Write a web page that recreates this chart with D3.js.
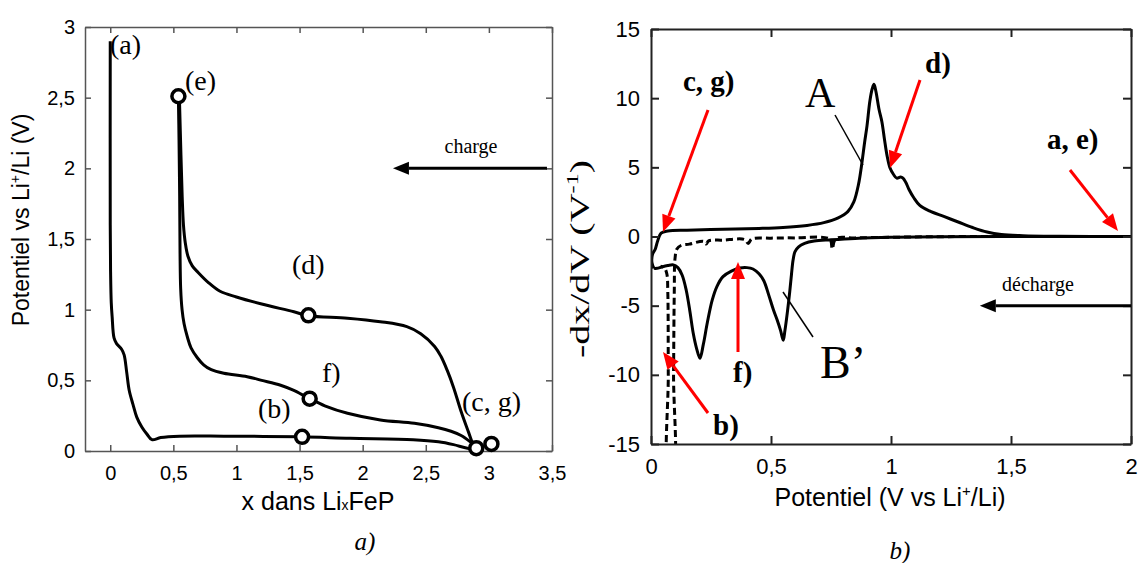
<!DOCTYPE html>
<html><head><meta charset="utf-8">
<script src="https://cdn.jsdelivr.net/npm/d3@7"></script>
<style>body{margin:0;background:#fff}svg{display:block}</style>
</head><body><svg id="c" width="1140" height="563"></svg>
<script>
// ---------- DATA ----------
// Panel a) : potential (V) vs x in LixFeP
const xTicksA = [0, 0.5, 1, 1.5, 2, 2.5, 3, 3.5];
const yTicksA = [0, 0.5, 1, 1.5, 2, 2.5, 3];
const firstDischarge = [[0,2.9],[0,1.6],[0.003,1.25],[0.008,1.05],[0.015,0.95],[0.03,0.8],[0.05,0.76],[0.09,0.72],[0.11,0.68],[0.13,0.56],[0.15,0.43],[0.18,0.33],[0.21,0.24],[0.25,0.17],[0.29,0.12],[0.33,0.08],[0.4,0.095],[0.55,0.105],[0.9,0.105],[1.5,0.1],[1.9,0.09],[2.4,0.08],[2.6,0.065],[2.72,0.045],[2.83,0.02],[2.9,0.02]];
const secondCharge = [[2.88,0.03],[2.84,0.13],[2.78,0.28],[2.72,0.45],[2.67,0.57],[2.62,0.67],[2.57,0.74],[2.46,0.83],[2.35,0.88],[2.14,0.915],[1.88,0.94],[1.57,0.957],[1.455,0.985],[1.2,1.04],[1.0,1.09],[0.87,1.13],[0.78,1.19],[0.7,1.26],[0.65,1.31],[0.615,1.38],[0.595,1.47],[0.58,1.6],[0.57,1.8],[0.56,2.1],[0.548,2.5]];
const secondDischarge = [[0.54,2.5],[0.545,2.2],[0.55,1.8],[0.553,1.4],[0.558,1.15],[0.569,1.0],[0.585,0.9],[0.61,0.81],[0.64,0.73],[0.69,0.66],[0.74,0.61],[0.8,0.575],[0.9,0.55],[1.085,0.526],[1.2,0.5],[1.35,0.465],[1.45,0.43],[1.575,0.373],[1.7,0.32],[1.88,0.267],[2.14,0.22],[2.41,0.196],[2.6,0.165],[2.7,0.14],[2.78,0.11],[2.86,0.06],[2.9,0.03]];
const markersA = [[0.54,2.51],[1.57,0.96],[1.58,0.37],[1.52,0.1],[2.9,0.02],[3.02,0.05]];

// Panel b) : -dx/dV vs potential
const xTicksB = [0, 0.5, 1, 1.5, 2];
const yTicksB = [-15, -10, -5, 0, 5, 10, 15];
const chargeSolid = [[0.012,-2.3],[0.004,-1.9],[0.006,-1.3],[0.018,-0.9],[0.028,-0.3],[0.042,0.25],[0.07,0.4],[0.15,0.46],[0.3,0.52],[0.45,0.58],[0.55,0.65],[0.65,0.8],[0.72,1.0],[0.78,1.35],[0.82,1.8],[0.845,2.5],[0.865,3.8],[0.877,5.1],[0.89,6.8],[0.9,8.0],[0.912,9.8],[0.922,10.7],[0.929,11.0],[0.937,10.5],[0.95,9.2],[0.962,8.3],[0.973,7.0],[0.983,5.9],[0.996,4.95],[1.01,4.5],[1.024,4.22],[1.04,4.3],[1.05,4.22],[1.062,3.9],[1.075,3.4],[1.095,2.8],[1.12,2.25],[1.16,1.85],[1.22,1.45],[1.28,1.05],[1.34,0.65],[1.4,0.32],[1.46,0.14],[1.55,0.06],[1.7,0.02],[2.0,0]];
const dischargeSolid = [[2.0,0],[1.6,0],[1.2,-0.02],[1.0,-0.06],[0.85,-0.14],[0.75,-0.24],[0.68,-0.33],[0.64,-0.5],[0.615,-0.75],[0.6,-1.1],[0.592,-1.7],[0.585,-2.8],[0.578,-4.0],[0.568,-5.5],[0.558,-6.8],[0.551,-7.5],[0.54,-6.8],[0.525,-6.0],[0.51,-5.3],[0.49,-4.2],[0.47,-3.2],[0.45,-2.7],[0.425,-2.35],[0.4,-2.25],[0.37,-2.28],[0.335,-2.5],[0.3,-2.9],[0.275,-3.6],[0.255,-4.6],[0.235,-6.2],[0.218,-7.8],[0.204,-8.8],[0.19,-8.1],[0.176,-7.0],[0.162,-5.4],[0.147,-3.9],[0.13,-2.8],[0.112,-2.25],[0.093,-2.05],[0.07,-2.1],[0.045,-2.2],[0.025,-2.3],[0.012,-2.3]];
const firstDischargeDashed = [[2.0,0],[1.5,0],[1.16,-0.02],[1.0,-0.06],[0.85,-0.1],[0.77,-0.15],[0.755,-0.9],[0.745,-0.2],[0.6,-0.1],[0.5,-0.12],[0.42,-0.18],[0.405,-0.5],[0.39,-0.22],[0.3,-0.26],[0.24,-0.32],[0.23,-0.55],[0.22,-0.35],[0.16,-0.55],[0.125,-0.65],[0.108,-0.9],[0.1,-1.6],[0.097,-4],[0.094,-10],[0.092,-17],[0.074,-17],[0.072,-10],[0.07,-4],[0.066,-2.7],[0.055,-2.25],[0.04,-2.15]];

// ---------- HELPERS ----------
const svg = d3.select("#c");
const fmt = d => String(d).replace('.', ',');
const SANS = "'Liberation Sans', Arial, sans-serif";
const SERIF = "'Liberation Serif', 'Times New Roman', serif";
const lineGen = (x, y) => d3.line().x(d => x(d[0])).y(d => y(d[1])).curve(d3.curveCatmullRom.alpha(0.5));

function arrow(g, x1, y1, x2, y2, color, w, hl, hw) {
  const a = Math.atan2(y2 - y1, x2 - x1);
  const bx = x2 - hl * Math.cos(a), by = y2 - hl * Math.sin(a);
  g.append("line").attr("x1", x1).attr("y1", y1).attr("x2", bx).attr("y2", by)
    .attr("stroke", color).attr("stroke-width", w);
  const px = -Math.sin(a) * hw / 2, py = Math.cos(a) * hw / 2;
  g.append("path").attr("d", `M${x2},${y2}L${bx + px},${by + py}L${bx - px},${by - py}Z`).attr("fill", color);
}
function label(g, x, y, t, size, opts = {}) {
  const el = g.append("text").attr("x", x).attr("y", y)
    .attr("font-family", opts.family || SERIF).attr("font-size", size)
    .attr("font-weight", opts.weight || "normal").attr("font-style", opts.style || "normal")
    .attr("text-anchor", opts.anchor || "start").attr("fill", opts.fill || "#000").text(t);
  return el;
}
function frame(g, x, y, xt, yt, stroke, sw, tick, padX, padY, fs) {
  const [x0, x1] = x.range(), [y0, y1] = y.range();
  const style = s => s.call(a => a.selectAll("line,path").attr("stroke", stroke).attr("stroke-width", sw))
    .call(a => a.selectAll("text").attr("font-family", SANS).attr("font-size", fs).attr("fill", "#000"));
  g.append("g").attr("transform", `translate(0,${y0})`)
    .call(d3.axisBottom(x).tickValues(xt).tickFormat(fmt).tickSizeInner(-tick).tickSizeOuter(0).tickPadding(padX)).call(style);
  g.append("g").attr("transform", `translate(0,${y1})`)
    .call(d3.axisTop(x).tickValues(xt).tickFormat("").tickSizeInner(-tick).tickSizeOuter(0)).call(style);
  g.append("g").attr("transform", `translate(${x0},0)`)
    .call(d3.axisLeft(y).tickValues(yt).tickFormat(fmt).tickSizeInner(-tick).tickSizeOuter(0).tickPadding(padY)).call(style);
  g.append("g").attr("transform", `translate(${x1},0)`)
    .call(d3.axisRight(y).tickValues(yt).tickFormat("").tickSizeInner(-tick).tickSizeOuter(0)).call(style);
}

// ---------- PANEL a) ----------
const xA = d3.scaleLinear([-0.2, 3.5], [85, 552]);
const yA = d3.scaleLinear([0, 3], [451, 27]);
const gA = svg.append("g");
frame(gA, xA, yA, xTicksA, yTicksA, "#555", 1.5, 6, 15, 10, 20);

const lA = lineGen(xA, yA);
[firstDischarge, secondCharge, secondDischarge].forEach(s =>
  gA.append("path").attr("d", lA(s)).attr("fill", "none").attr("stroke", "#000").attr("stroke-width", 3).attr("stroke-linejoin", "round"));
gA.selectAll("circle.m").data(markersA).join("circle").attr("class", "m")
  .attr("cx", d => xA(d[0])).attr("cy", d => yA(d[1])).attr("r", 6.5)
  .attr("fill", "#fff").attr("stroke", "#000").attr("stroke-width", 3.5);

label(gA, 110, 54, "(a)", 28);
label(gA, 185, 90, "(e)", 28);
label(gA, 292, 274, "(d)", 28);
label(gA, 322, 382, "f)", 28);
label(gA, 258, 418, "(b)", 28);
label(gA, 462, 411, "(c, g)", 28);
label(gA, 471, 153, "charge", 20, { anchor: "middle" });
arrow(gA, xA(3.46), yA(2), xA(2.24), yA(2), "#000", 3, 16, 13);

// axis titles a)
const xtA = label(gA, 318, 510, "", 25, { family: SANS, anchor: "middle" });
xtA.append("tspan").text("x dans Li");
xtA.append("tspan").attr("font-size", 14).text("x");
xtA.append("tspan").text("FeP");
const ytA = gA.append("text").attr("transform", "translate(29,220) rotate(-90)")
  .attr("font-family", SANS).attr("font-size", 23).attr("text-anchor", "middle");
ytA.append("tspan").text("Potentiel vs Li");
ytA.append("tspan").attr("font-size", 14).attr("dy", -9).text("+");
ytA.append("tspan").attr("dy", 9).text("/Li (V)");
label(gA, 365, 550, "a)", 25, { style: "italic", anchor: "middle" });

// ---------- PANEL b) ----------
const xB = d3.scaleLinear([0, 2], [651, 1131]);
const yB = d3.scaleLinear([-15, 15], [444, 29]);
const gB = svg.append("g");
svg.append("defs").append("clipPath").attr("id", "clipB").append("rect")
  .attr("x", 651).attr("y", 29).attr("width", 480).attr("height", 415);
const lB = lineGen(xB, yB);
const curves = gB.append("g").attr("clip-path", "url(#clipB)");
curves.append("path").attr("d", lB(firstDischargeDashed)).attr("fill", "none").attr("stroke", "#000")
  .attr("stroke-width", 3).attr("stroke-dasharray", "7,4");
[dischargeSolid, chargeSolid].forEach(s =>
  curves.append("path").attr("d", lB(s)).attr("fill", "none").attr("stroke", "#000").attr("stroke-width", 3).attr("stroke-linejoin", "round"));
frame(gB, xB, yB, xTicksB, yTicksB, "#222", 2, 8, 14, 11, 22);

// annotations b)
label(gB, 683, 91, "c, g)", 29, { weight: "bold" });
arrow(gB, 708, 110, 663, 232, "#f00", 3, 17, 14);
label(gB, 925, 73, "d)", 29, { weight: "bold" });
arrow(gB, 920, 80, 890, 168, "#f00", 3, 17, 14);
label(gB, 1047, 149, "a, e)", 29, { weight: "bold" });
arrow(gB, 1070, 170, 1118, 231, "#f00", 3, 17, 14);
label(gB, 733, 382, "f)", 29, { weight: "bold" });
arrow(gB, 738, 352, 738, 262, "#f00", 3, 17, 14);
label(gB, 713, 435, "b)", 29, { weight: "bold" });
arrow(gB, 708, 413, 663, 352, "#f00", 3, 17, 14);
label(gB, 805, 107, "A", 42);
gB.append("line").attr("x1", 835).attr("y1", 115).attr("x2", 863).attr("y2", 165).attr("stroke", "#000").attr("stroke-width", 1.5);
label(gB, 820, 378, "B\u2019", 46);
gB.append("line").attr("x1", 783).attr("y1", 292).attr("x2", 813).attr("y2", 337).attr("stroke", "#000").attr("stroke-width", 1.5);
label(gB, 1038, 291, "décharge", 20, { anchor: "middle" });
arrow(gB, xB(2), yB(-5), xB(1.37), yB(-5), "#000", 3, 16, 13);

const xtB = label(gB, 890, 506, "", 25, { family: SANS, anchor: "middle" });
xtB.append("tspan").text("Potentiel (V vs Li");
xtB.append("tspan").attr("font-size", 15).attr("dy", -10).text("+");
xtB.append("tspan").attr("dy", 10).text("/Li)");
const ytB = gB.append("text").attr("transform", "translate(589,259) rotate(-90)")
  .attr("font-family", SERIF).attr("font-size", 28).attr("text-anchor", "middle")
  .attr("textLength", 198).attr("lengthAdjust", "spacingAndGlyphs");
ytB.append("tspan").text("-dx/dV (V");
ytB.append("tspan").attr("font-size", 17).attr("dy", -11).text("-1");
ytB.append("tspan").attr("dy", 11).text(")");
label(gB, 900, 559, "b)", 25, { style: "italic", anchor: "middle" });
</script></body></html>
